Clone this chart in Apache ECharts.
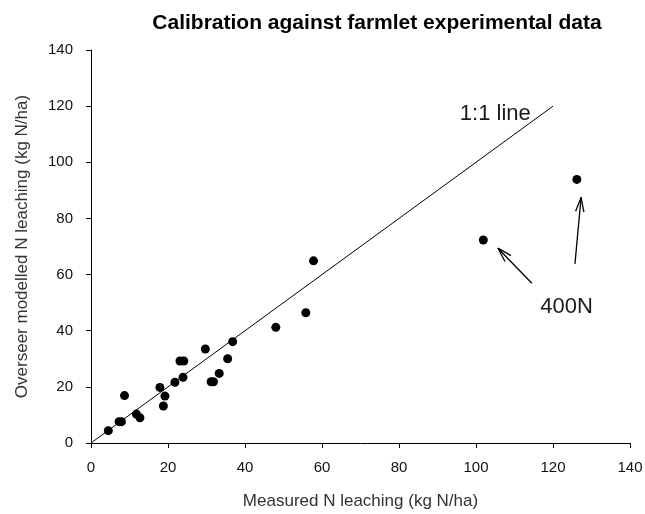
<!DOCTYPE html>
<html>
<head>
<meta charset="utf-8">
<script src="https://cdn.jsdelivr.net/npm/echarts@6/dist/echarts.min.js"></script>
<style>
  html, body { margin: 0; padding: 0; background: #fff; }
  #chart { width: 645px; height: 514px; }
</style>
</head>
<body>
<div id="chart"></div>
<script>
// measured vs modelled N leaching (kg N/ha)
var measured = [4.5, 7.3, 7.9, 8.7, 11.8, 12.7, 17.9, 19.2, 18.8, 21.8, 23.1, 24.1, 23.9,
  29.7, 31.2, 31.8, 33.3, 35.5, 36.8, 48.0, 55.8, 57.8, 101.9, 126.2];
var modelled = [4.4, 7.6, 7.6, 16.9, 10.3, 9.0, 19.8, 16.7, 13.2, 21.6, 29.2, 29.2, 23.4,
  33.5, 21.8, 21.8, 24.8, 30.0, 36.1, 41.2, 46.4, 64.9, 72.3, 93.9];
var oneToOne = [[0, 0], [120, 120]];
var axisTicks = [0, 20, 40, 60, 80, 100, 120, 140];
// annotation arrows: [fromX, fromY, toX, toY]
var arrows = [[114.5, 56.9, 105.7, 69.4], [125.7, 63.8, 127.3, 87.5]];
// [text, x, y, font size]
var notes = [['1:1 line', 95.8, 117.4, 22], ['400N', 116.7, 48.6, 22]];

var points = measured.map(function (v, i) { return [v, modelled[i]]; });

var chart = echarts.init(document.getElementById('chart'));
chart.setOption({
  animation: false,
  title: {
    text: 'Calibration against farmlet experimental data',
    left: 372,
    textAlign: 'center',
    top: 8,
    textStyle: { fontFamily: 'Liberation Sans', fontWeight: 'bold', fontSize: 21, color: '#000' }
  },
  grid: { left: 91, right: 15, top: 50, bottom: 71, outerBoundsMode: 'none' },
  xAxis: {
    type: 'value',
    min: axisTicks[0], max: axisTicks[axisTicks.length - 1], interval: 20,
    name: 'Measured N leaching (kg N/ha)',
    nameLocation: 'middle', nameGap: 50,
    nameTextStyle: { fontFamily: 'Liberation Sans', fontSize: 17, color: '#333' },
    axisLine: { lineStyle: { color: '#000', width: 1 } },
    axisTick: { length: 5, lineStyle: { color: '#000' } },
    axisLabel: { margin: 17, fontFamily: 'Liberation Sans', fontSize: 15, color: '#111' },
    splitLine: { show: false }
  },
  yAxis: {
    type: 'value',
    min: axisTicks[0], max: axisTicks[axisTicks.length - 1], interval: 20,
    name: 'Overseer modelled N leaching (kg N/ha)',
    nameLocation: 'middle', nameGap: 60,
    nameTextStyle: { fontFamily: 'Liberation Sans', fontSize: 17, color: '#333' },
    axisLine: { show: true, lineStyle: { color: '#000', width: 1 } },
    axisTick: { show: true, length: 5, lineStyle: { color: '#000' } },
    axisLabel: { margin: 18, fontFamily: 'Liberation Sans', fontSize: 15, color: '#111' },
    splitLine: { show: false }
  },
  series: [
    {
      type: 'line',
      data: oneToOne,
      symbol: 'none',
      lineStyle: { color: '#000', width: 1 },
      silent: true
    },
    {
      type: 'scatter',
      data: points,
      symbol: 'circle',
      symbolSize: 9,
      itemStyle: { color: '#000', opacity: 1 }
    },
    {
      type: 'custom',
      data: arrows,
      silent: true,
      renderItem: function (params, api) {
        var a = arrows[params.dataIndex];
        var p1 = api.coord([a[0], a[1]]);
        var p2 = api.coord([a[2], a[3]]);
        var ang = Math.atan2(p1[1] - p2[1], p1[0] - p2[0]);
        var len = 15, spread = 0.28;
        var h1 = [p2[0] + len * Math.cos(ang + spread), p2[1] + len * Math.sin(ang + spread)];
        var h2 = [p2[0] + len * Math.cos(ang - spread), p2[1] + len * Math.sin(ang - spread)];
        var style = { stroke: '#000', lineWidth: 1.3, fill: null };
        return {
          type: 'group',
          children: [
            { type: 'line', shape: { x1: p1[0], y1: p1[1], x2: p2[0], y2: p2[1] }, style: style },
            { type: 'line', shape: { x1: p2[0], y1: p2[1], x2: h1[0], y2: h1[1] }, style: style },
            { type: 'line', shape: { x1: p2[0], y1: p2[1], x2: h2[0], y2: h2[1] }, style: style }
          ]
        };
      }
    },
    {
      type: 'custom',
      data: notes,
      silent: true,
      renderItem: function (params, api) {
        var n = notes[params.dataIndex];
        var p = api.coord([n[1], n[2]]);
        return {
          type: 'text',
          x: p[0], y: p[1],
          style: {
            text: n[0], fill: '#1a1a1a',
            font: n[3] + 'px "Liberation Sans"',
            textAlign: 'left', textVerticalAlign: 'middle'
          }
        };
      }
    }
  ]
});
</script>
</body>
</html>
